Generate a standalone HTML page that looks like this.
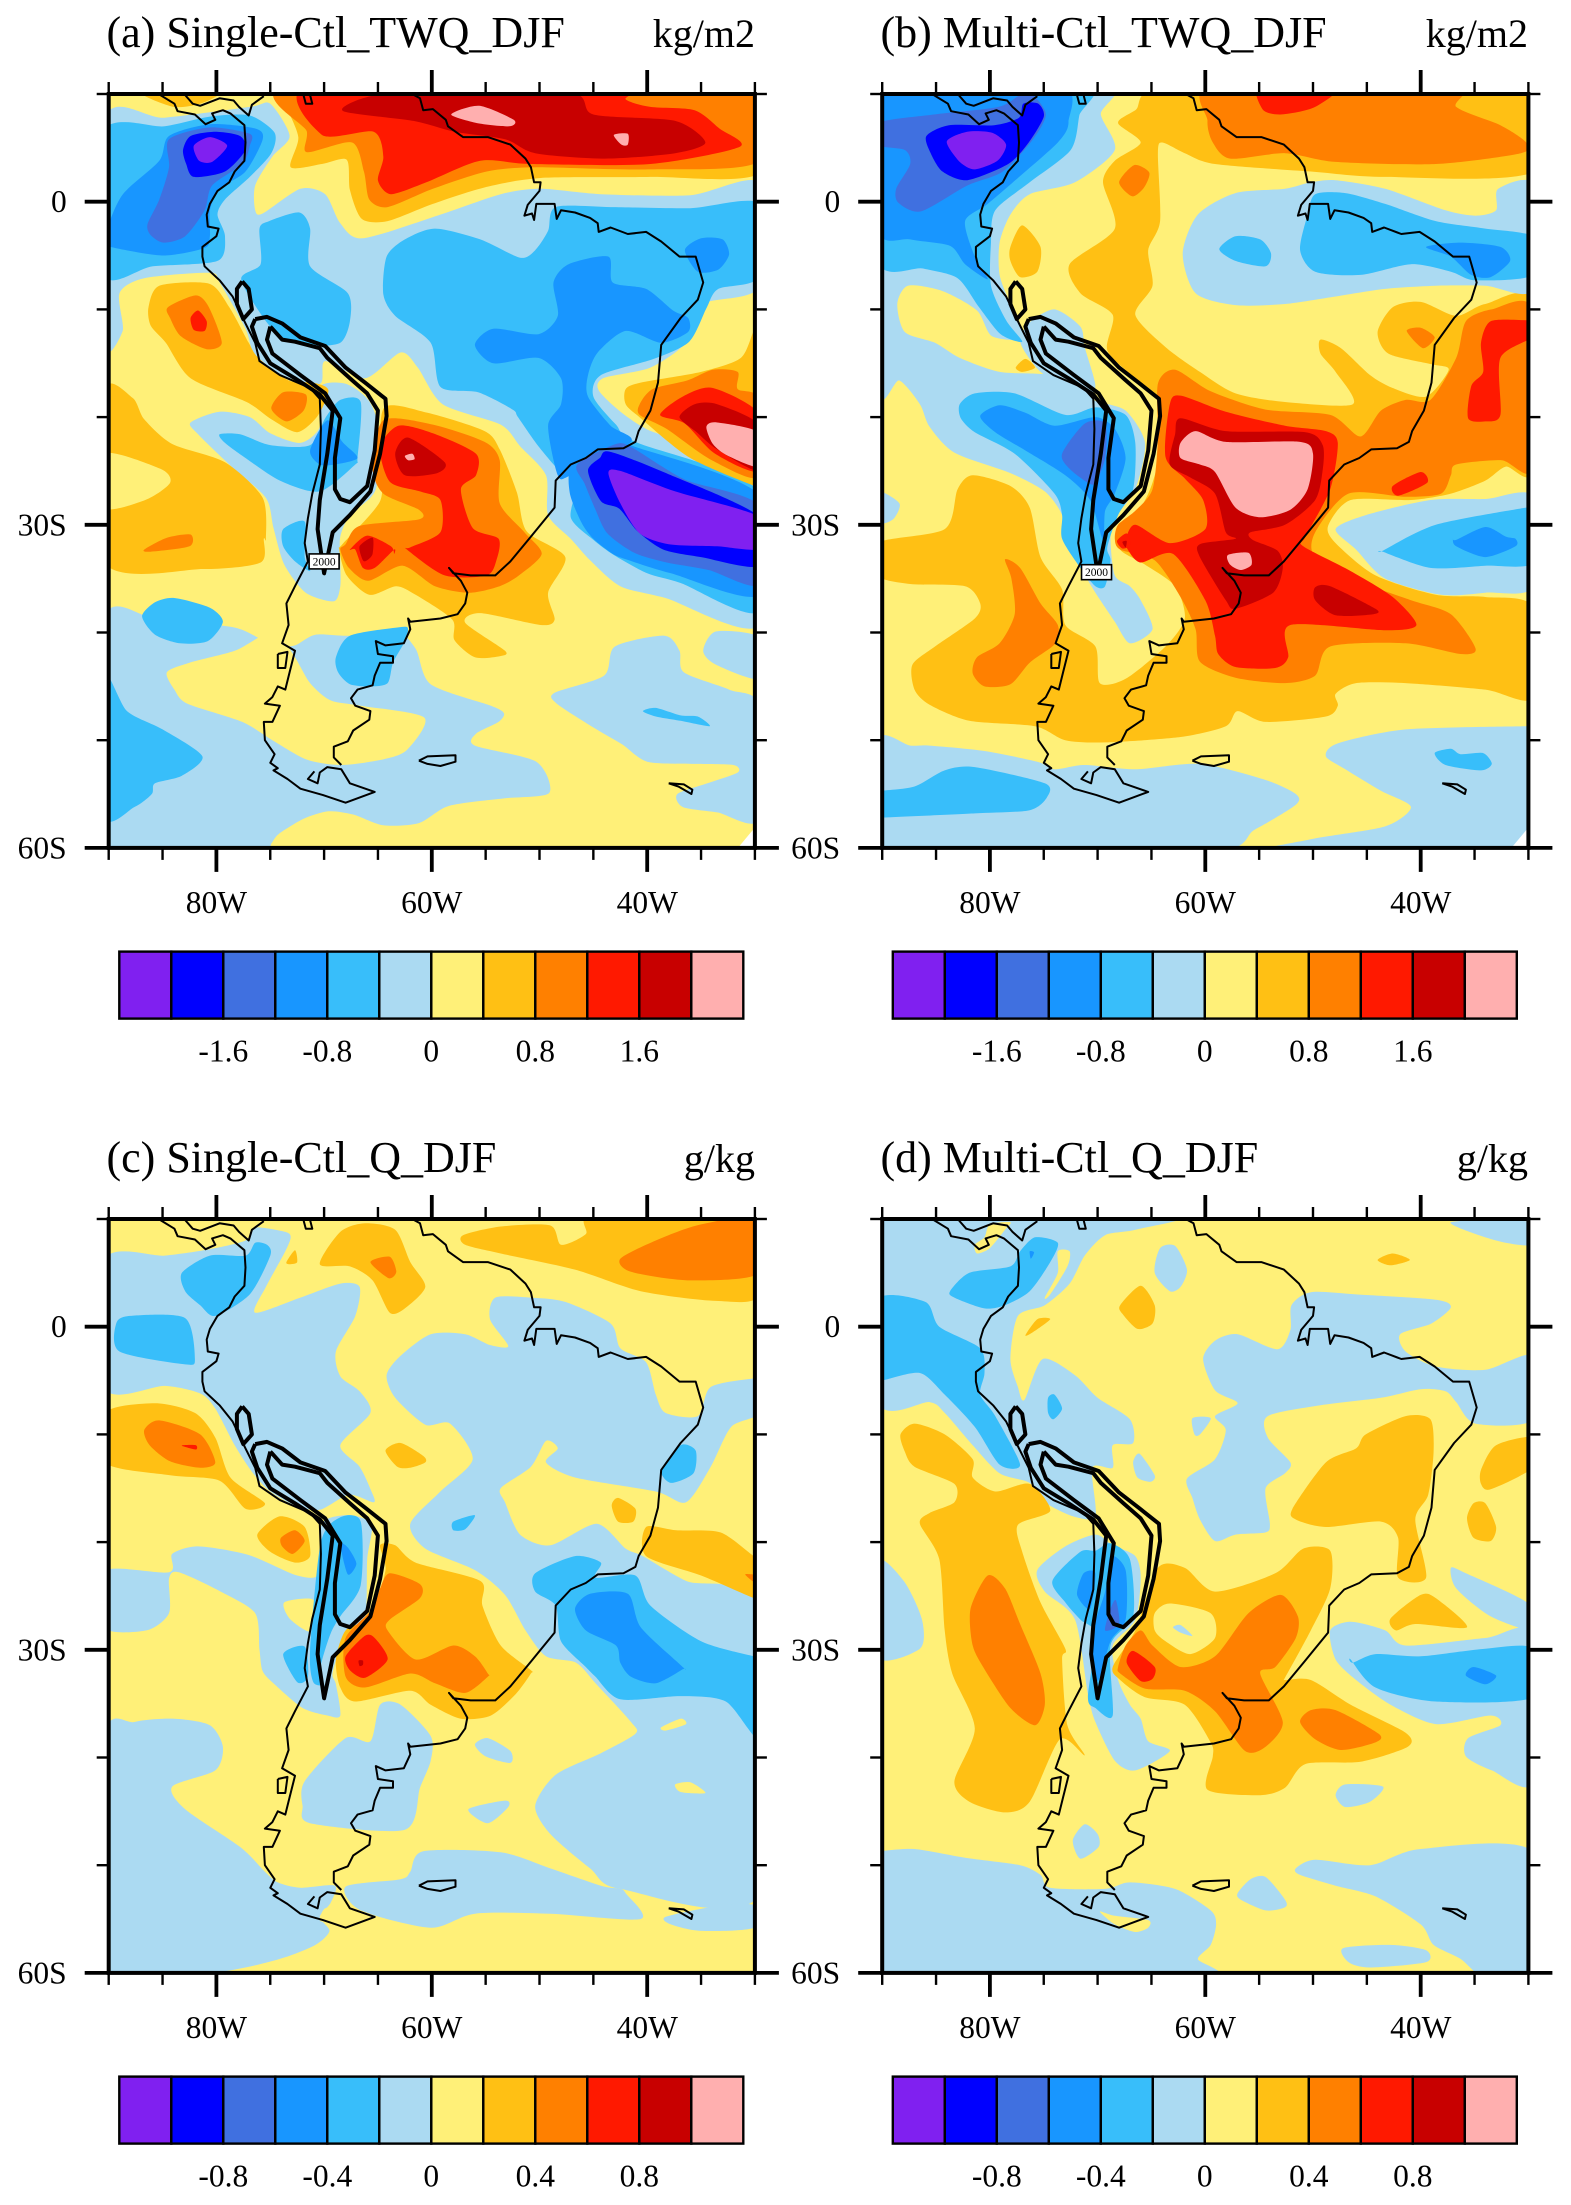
<!DOCTYPE html>
<html lang="en">
<head>
<meta charset="utf-8">
<title>Single and Multi minus Ctl TWQ and Q, DJF</title>
<style>
html,body{margin:0;padding:0;background:#fff}
svg{display:block}
text{font-family:"Liberation Serif",serif;fill:#000}
</style>
</head>
<body>
<svg id="figure" xmlns="http://www.w3.org/2000/svg" width="1571" height="2205" viewBox="0 0 1571 2205">
<rect width="1571" height="2205" fill="#fff"/>
<text x="106.5" y="47" font-size="44">(a) Single-Ctl_TWQ_DJF</text>
<text x="755" y="47" font-size="40" text-anchor="end">kg/m2</text>
<text x="880.5" y="47" font-size="44">(b) Multi-Ctl_TWQ_DJF</text>
<text x="1528" y="47" font-size="40" text-anchor="end">kg/m2</text>
<text x="106.5" y="1172" font-size="44">(c) Single-Ctl_Q_DJF</text>
<text x="755" y="1172" font-size="40" text-anchor="end">g/kg</text>
<text x="880.5" y="1172" font-size="44">(d) Multi-Ctl_Q_DJF</text>
<text x="1528" y="1172" font-size="40" text-anchor="end">g/kg</text>
</svg>
<script>
// Shading levels, dry to moist
const levelColors = ['#8020F0','#0000FF','#4070E0','#1896FF','#38BEFA','#ABDAF2','#FFF078','#FFC014','#FF8000','#FF1900','#C80000','#FFAFAF'];
const twqBarLabels = ['-1.6','-0.8','0','0.8','1.6'];
const qBarLabels = ['-0.8','-0.4','0','0.4','0.8'];
const lonMajor = [80,60,40];
const lonMajorLabels = ['80W','60W','40W'];
const lonMinor = [90,85,75,70,65,55,50,45,35,30];
const latMajor = [0,30,60];
const latMajorLabels = ['0','30S','60S'];
const latMinor = [-10,10,20,40,50];
// Geography, as [deg W, deg S] pairs (negative S = north)
const coastPacific = [85.2,-9.9,83.9,-9.1,83.6,-8.4,82,-8.1,81,-7.2,80.1,-7.6,80.4,-8.2,79.4,-8.5,78.7,-8.2,78,-7.6,77.4,-7.1,77.3,-5.5,77.4,-3.8,78.3,-2.8,78.8,-1.8,79.9,-1,80.6,.2,80.9,1.2,80.8,2.3,79.8,2.5,80,3.2,81.3,4.2,81.3,5.1,81.1,6,79.7,7.3,78.5,8.8,77.3,11.3,76.4,13.1,76,14.8,74.1,16.1,71.3,17.3,70.4,18.3,70.3,21.1,70.4,24.4,71.1,27.1,71.5,29.4,71.8,31.7,71.5,33.4,72.7,35.7,73.5,37.3,73.3,39.3,73.9,41,72.7,41.7,73.2,43.7,73.6,45.3,74.3,45,74.8,46,75.5,46.6,74.1,46.8,74.8,48.3,75.6,48.3,75.5,50,74.6,51.3,75,52.1,74.3,52.6,74.7,52.8,73.4,53.6,72.2,54.5,70.1,55.1,68,55.8,65.3,54.8,67.6,54,68.4,52.7,69.7,52.5,70.4,53,70.6,54,71.5,53.6,70.9,52.9];
const coastAtlantic = [68.4,52.3,69.1,51.6,69.1,50.6,67.8,50.1,67.3,49.1,65.8,48.1,65.7,47.3,67.1,46.8,67.5,46.1,66.9,45.3,65.5,44.9,65.3,44,64.8,42.8,63.6,42.8,63.6,42.2,65,42,65.2,40.8,64.3,41.2,62.6,41,62,39.7,62.2,38.7,62,39,59.2,38.7,57.6,38.3,56.9,37.3,56.7,36.3,57.3,35.2,58.4,34,58,34.5,56.4,34.7,54.1,34.7,52.7,33.4,50.8,31.1,48.6,28.4,48.5,25.9,47.1,24.4,45.7,23.8,44.6,23,42.2,22.9,41.1,22.3,40.8,21.3,39.7,19.4,39,16.8,38.7,13.3,36.9,10.8,35.3,9.1,34.8,7.5,35.5,5.1,37,5.1,38.7,3.7,40.1,2.8,41.8,3,43.4,2.4,44.5,2.8,44.6,2,45.3,1.5,46.7,1,48,.8,48.4,1.6,48.6,.2,50.3,.2,50.5,1.7,50.7,1.1,51.4,1.3,51.1,.3,50,-1,49.9,-1.8,50.5,-1.8,50.8,-3.2,51.3,-4,52.7,-5.3,54.8,-6,57.1,-6,58.5,-7,58.7,-7.6,59.9,-8.6,60.8,-8.5,61.1,-9.6,62.2,-10.2];
const coastCaribbean = [82.9,-9.9,82.2,-9.1,81.5,-8.9,79.7,-9.6,78.4,-9.4,77.9,-8.8,77,-8,76.7,-9,75.6,-9.8];
const coastMaracaibo = [72,-10.2,71.7,-9.1,71.1,-9.1,71.3,-9.9];
const islandChiloe = [74.3,42,73.4,41.8,73.6,43.3,74.3,43.3,74.3,42];
const islandFalkland = [61.2,51.9,60.4,51.5,57.8,51.4,57.8,52,59.2,52.4,60.4,52.2,61.2,51.9];
const islandGeorgia = [38,54,36.6,54.1,35.8,54.6,35.9,55,37.1,54.3,38,54];
const coastLines = [coastPacific,coastAtlantic,coastCaribbean,coastMaracaibo,islandChiloe,islandFalkland,islandGeorgia];
const topoNorthLoop = [77.6,7.4,77,8.1,76.7,10,77.5,10.9,78.1,9.5,78.1,8.1,77.6,7.4];
const topoOuter = [76.4,10.9,75.3,10.7,73.9,11.3,72.2,12.6,69.9,13.4,68,15.4,66.2,16.8,64.3,18.3,64.2,19.9,64.8,23.4,65.7,26.9,67.6,29.1,69.2,30.7,70,34.5,70.6,30.4,70.4,27.7,69.7,23.4,69.2,19.4,70.4,17.9,72.7,16.4,75,15,76.2,13.1,76.7,11.6,76.4,10.9];
const topoInner = [75,11.6,75.3,12.8,74.8,14.1,72.2,16.1,69.9,17.8,68.5,20.1,69,23.8,69,26.7,68.5,27.6,67.6,27.9,66,26.4,65.3,23.1,65,19.4,66,17.8,67.6,16.4,69.7,14.5,70.4,13.6,72.7,13,73.9,12.8,74.8,11.8,75,11.6];
const topoLines = [topoNorthLoop,topoOuter,topoInner];
const cornerGap = [29.5,57.5,32,60.5,29.5,60.5];
// Filled contour regions: [level index, W,S, W,S, ...], painted in order
const singleTwqRegions = [
[5,90.4,-7.6,84.8,-7.8,76.9,-8.8,75,-9.1,73.2,-6.1,74.8,-4.2,76.4,-1.5,76.4,.8,75.7,1.1,72.2,-1.2,69.9,-.7,68.5,2,66.4,3.4,59.2,1.2,53.6,-.7,49.9,-1.2,44.3,-.7,36,-.6,29.5,-1.7,29.5,7.8,34.8,9.5,36.4,13.1,39.7,15.4,44.1,16.4,44.3,17.8,40.1,21.1,29.5,25.7,29.5,39.3,38.3,36.8,42.5,35.7,45.3,33.3,47.1,31.3,49.2,29.1,49.4,25.4,51.8,22.7,53.6,20.7,59,18.8,61.3,15.4,62.9,14,66.2,16.4,69.9,14.8,70.4,16.9,74.1,16.1,76.4,14.5,77.3,11.8,79.7,7.5,80.6,6.6,86.7,7.1,89,8.5,88.7,12,90.5,13],
[5,70.4,17.2,68,16.9,65.9,18.4,65,21,65.2,26.7,67.6,29.1,68.5,31.1,68.5,33.3,68.5,35.7,69.1,37.1,71.7,36.3,73.7,33.7,74.7,30.3,75.4,27.5,78.6,24.6,81.7,21.6,82.4,20.5,79.7,19.5,76.9,20,75,21.5,72.2,22.4,70.4,20.9],
[5,90.5,38.9,85.5,38.8,78.5,39.5,75.9,40.6,74.3,41.3,72.7,41.2,70.8,40.2,67.6,40.3,63.4,39.8,61.5,41.5,60.1,44.8,54.5,46.8,53.3,47.5,53.8,48.3,55.9,49.4,56,50.5,50.3,52,49.1,54.9,53.3,55.4,58.4,56.1,61.2,57.7,64.5,57.9,67.3,56.9,69.6,56.6,71.9,57.3,74.2,58.7,74.9,59.6,75.6,60.5,81.9,61,90.5,61],
[6,84.6,43.7,82.5,42.8,78.3,41.7,75.5,40.2,73.9,40.7,72.7,42.3,71.3,44.7,69.4,46.3,66.6,46.8,60.7,47.9,62.3,50.9,64.6,51.8,68.4,52.3,71.6,51.8,74.8,50,77.6,48.3,82.7,46.6,83.9,45.3],
[5,48.6,45.6,44,44,43,41.3,38.4,40.3,37,41.7,36.6,43.7,32.4,45.3,29.5,46.9,29.5,57.3,33.5,56.7,36.7,56.2,37.2,55,34.4,54,31.6,53,32,52.3,35.7,52.2,40,52,42.3,50.4,44.7,49,48.4,46.6],
[5,33.6,39.9,34.8,41.7,33.6,43,29.5,44.3,29.5,40.5],
[4,86.9,38.5,85.7,37.2,83.9,36.8,80.6,37.7,79.4,39,80.8,40.8,83.4,41,85.7,40.2],
[4,68.9,42.3,67.6,40.3,62.9,39.5,62.2,39.7,62.6,41,63.6,42.8,64.1,44.7,65.7,45,67.6,44.8,68.7,43.7],
[4,90.5,44,88.3,47.3,85,49,81.3,51.5,83.2,53.3,85.7,54,86,55,87.6,56.2,90.5,57],
[4,40.4,47.3,39.2,47,36.9,47.7,35.3,47.8,34.2,48.7,36.9,48.2,39.2,47.8],
[4,79.7,21.6,77.8,21.6,75,22.6,71.3,22.6,69.9,20.1,68.5,18.4,66.6,18.6,66.9,23.8,67.1,24.4,70.4,26.9,74.1,25.9,77.3,23.8,79.2,22.4],
[3,71.3,23.1,69.7,20.3,68.3,22.3,66.9,23.8,69,24.4,70.4,24.4],
[4,73.8,30.4,71.8,29.7,71.8,33,71.3,34.3,72.7,33.4,73.8,32],
[3,74.3,9.5,73.4,10.5,73.9,10.8],
[4,90.5,-6.5,84.8,-7,80.6,-7.9,76.9,-8,74.6,-6.4,74.9,-4.5,76.9,-2.3,79.2,-.2,79.9,1.2,79.2,3.2,79.9,5.5,85.9,6,90.5,6.7],
[3,89.9,1.8,88.6,-.8,85.3,-3.8,84.4,-6.1,80.6,-7.2,76.4,-6.8,75.7,-5.8,77.3,-2.8,79.7,-1.2,80.6,.8,80.6,3.2,81.1,4.3,84.9,5,89.4,4.3,90.5,3.8],
[2,86.4,2.1,85.3,-.2,84.4,-3.2,84.4,-5.8,80.6,-6.9,76.9,-6.3,76.9,-5.2,77.6,-3.5,80.4,-1.5,81.1,.8,82.9,3.2,84.9,3.8,86.1,3.1],
[1,83.1,-4.8,82.4,-6.1,80.1,-6.5,77.8,-6.1,77.3,-4.8,79.2,-2.8,82.1,-2.3,82.8,-3.5],
[0,82.1,-5.2,80.6,-6,79,-5.2,80.4,-3.7,81.6,-3.8],
[4,76,2.5,75.1,1.8,72.3,1,71.3,2.5,71.3,6,67.8,8.5,67.6,11.1,68.5,13.1,71.3,13.4,73.6,12.8,75.4,11.1,77.7,7.2,75.9,5.8],
[4,64.2,5.1,62.5,3.5,59.7,2.5,55.5,3.5,51.8,5.2,50.4,4.5,49.2,2.7,48.5,.5,43.4,.5,36,.6,29.5,.2,29.5,6.9,33.4,8.1,34.5,9.9,36.1,13,39.4,14.6,44.3,16.1,45,18.1,42.9,20.7,41.1,22.3,29.5,27,29.5,38,36.9,35.4,40,34.5,43.1,32.8,45,31.4,47.1,29.3,46.4,25.8,48,25.1,50.1,22.7,52,20,52.5,19.3,55.7,17.7,59.2,17.2,60.1,13.1,63.4,10.6,64.5,8.6],
[3,48.7,7.5,47.3,5.8,43.6,5.1,43.2,7.5,40.1,8.1,37.6,10.1,36.2,10.8,36.2,12.1,38.7,13.1,42,12,44.6,14,45.5,16.1,45.5,18.1,43.4,20.8,41.5,22.3,47.1,25.4,48.3,25.4,49.2,20.8,48,18.8,48,16.4,50.1,14.5,54.3,15,56,13.3,54.3,11.8,50.1,12.3,48.3,10.6],
[3,46.9,24.4,42.9,22.5,41,22.8,29.5,27.3,29.5,36.5,37.8,34.5,41.7,33.3,43.2,32.7,45,31.3,46.1,29.8,47.2,27],
[3,36.5,4.5,35,3.4,33,3.5,32.4,4.9,33.4,6.3,35.3,6.5],
[2,46.5,24.4,42.9,22.5,41.3,22.9,36.5,25.8,29.5,28.3,29.5,35.5,34.3,34.2,38.2,33.5,41.2,32.6,43.7,30.8,44.8,28.6,45.8,26.2],
[1,45.5,25,44.4,23.8,43.5,23.2,38.5,25.1,29.5,29.3,29.5,33.8,35,33,38.5,32.3,40.9,30.6,42.6,28.5,44.3,27.8],
[0,43.6,25.2,42.5,25,37.4,26.9,29.5,29.3,29.5,32.2,33.5,32,38,31.8,40.7,30.8,42.5,28],
[7,91,-11,90,-11,87.9,-11,86.6,-9.8,83.9,-8.8,81.5,-9.1,79.7,-10,79.7,-11],
[7,74.6,-11,73.8,-9.4,72.4,-6,73.1,-3.2,70.2,-3.5,67.9,-3.9,67.6,-1.1,66.5,1.6,64.1,1.8,59.9,0.2,55.2,-1.3,49.9,-2.2,39.7,-2.3,29.5,-2.7,29.5,-11],
[8,72.5,-11,71.6,-6.5,71.6,-4.6,67.4,-5.5,66.3,-2.8,65.8,-.2,64.1,.5,59.9,-1.2,54.9,-2.8,50.3,-3.2,39.7,-3,29.5,-3.8,29.5,-11],
[9,71,-11,70.2,-6.2,65.4,-6.5,64.5,-4.2,65,-2,63.8,-.7,60.5,-1.8,55.5,-3.8,50.8,-3.5,39.7,-3.5,31.4,-5.1,33.3,-6.8,35.6,-8.5,39.7,-8.8,42,-9.5,42.5,-11],
[10,68.2,-8.4,66.4,-9.6,62.2,-10.2,47.3,-10.2,45,-8.1,37.4,-7.5,34.6,-5.5,37.4,-4.5,43.9,-4,50.4,-4.5,53.2,-5.8,57.9,-6.5,61.7,-7.5],
[11,58.2,-8.1,55.6,-8.9,52.4,-7.6,52.8,-7,55.8,-7.3],
[11,43.1,-6.2,41.8,-6.3,41.8,-5.3,42.4,-5.3],
[7,86.3,9.8,85.3,7.8,80.7,7.6,78.8,9.8,77,13.1,76.1,14.5,73.3,16.6,71,16.8,69.6,17.5,70.6,19.9,72.5,21.4,74.9,20.2,77.2,18.6,82.4,16.4,84.7,13.1,86.1,11.5],
[8,84.5,9.8,81.9,8.7,80.7,9.8,79.5,13.1,80.9,13.7,83.3,12.5,84.3,10.8],
[9,82.4,10.8,81.7,10.1,80.9,11.1,81.1,12,82.1,11.9],
[8,74.9,19.2,73.8,17.7,71.7,17.9,71.9,19.4,73.5,20.4],
[7,90.5,17.7,87.8,18.2,86.7,20.2,84.1,22.5,79.2,24.2,75.7,27.5,75.4,31.3,75.6,31.3,75.9,33.5,81.2,34.1,90.5,33.4],
[6,90.5,23.4,85.2,24.8,84.3,26.1,86.6,27.7,90.5,28.4],
[8,86.7,32.3,84.6,31.2,82.4,30.9,82.5,32,86.1,32.5],
[7,64.4,19.1,60.4,19.6,55.1,21.3,53.7,23,52.1,27,51.2,30.6,47.6,33,49.2,36.3,48.6,38.8,49.9,39.3,55.5,38.2,56.9,39.1,53.2,41.7,53.7,42.2,56,42.3,57.9,40.7,58.1,38.8,61.5,36.5,63.3,35.7,65.8,36.5,67.9,34.7,68.6,32.3,68.3,31.8,64.8,27.8,64.8,24],
[8,65.5,24.7,64.5,20.3,59.9,20.7,55.1,22.3,53.7,24,53.7,28,51.4,30.7,49.8,32.7,51.9,34.7,53.7,35.7,56.5,36.3,59.7,35.7,62.7,33.8,65.9,35.2,67.7,34,68.5,32.3,68,31.8,66.7,30.1,61.2,29.5,61.2,28.6,64.5,27.1],
[9,64.8,22.8,63.1,20.8,59.9,21.5,55.9,23.4,55.9,25.4,57.3,26.7,56.2,30.3,53.8,31.3,54,33.3,54.9,34.7,58.8,34.7,62.3,32.3,62,32.1,59.2,30.7,59.2,27.7,61.1,26.9,63.9,26],
[9,67.6,32.3,66,31,63.8,32,63.5,32.7,63.5,32.3,65.3,34,66.4,34,67.1,32.3],
[10,63.4,23.4,62.2,21.9,58.8,24.2,59.5,25.2,62.5,25.4],
[10,66.7,32,65.5,31.2,65.5,32.7,66,33.3,66.4,33.3],
[11,62.5,23.6,61.8,23.4,61.6,23.9,62.2,24],
[7,42,17.4,40.6,16.8,35,15.8,31.3,14.5,30,11.8,29,11.8,29,26.4,30,26.4,36,23.8,40.6,20.1,42,18.8],
[8,40.7,18.8,39.5,17.4,36.3,16.6,33.9,15.6,31.6,15.8,31.6,17.4,29.5,18.4,29.5,25.5,34,24,38.2,21.1,40.7,19.8],
[9,38.8,19.8,36.7,18.1,33.9,17.3,29.5,19.8,29.5,25,33.7,23.4,36.5,20.6],
[10,37,20,35.6,18.8,33.5,18.8,29.5,20.8,29.5,25,33.5,23,35.4,21.4],
[11,34.5,20.9,33.5,20.5,29.5,21.5,29.5,24.6,32.5,23.6,33.9,22.5]
];
const multiTwqRegions = [
[7,68.1,-7.3,66.5,-8.5,62.3,-11,29.5,-11,29.5,-2.8,43.3,-2.3,50.2,-2.8,59.1,-3.5,61.9,-4.5,64,-5.5,64.4,-4.5,64.2,1.8,65.3,4.5,64.9,7.8,66.5,10.5,63.7,13.5,60.5,15.8,57.2,17.8,52.6,18.6,46.3,18.8,47.9,15.8,49.3,14.1,49.3,12.8,47.4,13.6,44.7,16.1,42.6,17.3,39.5,18.1,37.4,15.6,39,15.1,43,14.1,44,12.1,42.6,9.8,40,9.3,36.7,10.6,34,9.5,29.5,9.3,29.5,24.8,32.1,24.6,34,25.9,37.2,27.1,40.9,27.7,46.5,27.7,48.6,30.1,47.9,31.7,44.2,34.7,38.6,36.5,34,36.7,29.5,37.7,29.5,46,34,45.3,41.4,44.7,46,44.7,47.9,45.7,47.7,46.8,48.8,47.8,54.4,48.3,57,47.3,58.1,48.7,62.3,49.7,69.3,50.2,73,50,75.8,48.7,81.9,48.2,85.6,46.7,87,45.3,87.2,43,85.1,41.3,81.4,38.7,80.9,37.3,82.3,35.7,87.4,35.5,90.5,34.7,90.5,31.7,84.2,30.4,83,26.7,81.6,25.4,78.1,26.4,76.3,28.4,75.3,33,73.3,36,73,39.3,70.2,41.3,69.8,44.7,67.4,44.3,63.7,41.3,61.9,38.7,62.8,35.7,65.6,33.7,67.9,32.3,67.9,30.4,66,28.4,64.9,26.1,64,22.4,64.2,18.4,66.5,16.4,69.1,13.8,68.6,10.5,71.6,8.5,72.6,5.8,68.4,2.5,69.5,-1.8,68.4,-3.8,66,-5.5],
[5,90.5,-11,69.3,-11,69.7,-8.1,68.4,-4.8,72.1,-1.8,76.3,-.7,78.1,1.2,79.1,3.8,79.1,6.8,78.1,9.5,77.2,11.5,76.7,12.8,79.8,12.5,81.2,10.1,84.4,8.3,87.6,7.8,88.6,9.5,87.9,12.1,85.1,13.1,82.8,14.5,79.1,15.8,74.4,16.1,71.2,17.6,70.2,18.5,67.4,19.4,65.6,22.4,66.5,26.7,68.4,29.4,68.8,31.3,68.4,34.7,67,35.7,66,37,64.9,39.7,67,41,68.4,39,70.2,36.3,71.6,34,73.3,31.3,73.3,29.1,74.9,26.9,78.1,25.2,83.3,23.3,85.6,20.9,86.5,18.8,88.4,16.6,90.5,17],
[5,74,10,71.6,11.6,71.2,13.5,70.2,17.1,71.2,17.9,74.9,16.1,76.3,14.6,77.2,12.9,76.3,11.2],
[5,90.5,26.9,88.4,28,89,29.5,90.5,29.8],
[4,90.5,-11,71.2,-11,71.7,-8,72.5,-4.8,76.3,-1.8,79.5,.8,79.9,3.8,79.9,7.8,78.5,11,77,13,79,12.3,81,9.8,83,7.1,86.2,6.2,90.5,5.3],
[3,90.5,-11,73.7,-11,72.7,-7.4,73.7,-5.5,77.4,-2.2,80.2,.2,82.3,1.8,81.4,5.1,80.2,7.2,82.3,5.8,83.7,4.1,87.4,3.5,90.5,2.5],
[2,90.5,-7.3,85.2,-8.1,79.2,-8.8,77.2,-9.9,76,-9.9,74.8,-8.1,76,-5.8,78.8,-2.8,82.1,-1.5,86.4,.9,88.5,.1,88.7,-1.2,87.4,-3.5,87.9,-4.8,90.5,-5.3],
[1,85.9,-6.1,83.8,-7.1,79.6,-7.1,77.3,-7.8,76.9,-9.1,75.5,-9.1,75,-7.9,76.4,-5.5,78.3,-3.5,82.1,-2,84.4,-2.8,85.5,-4.5],
[0,84,-5.6,82.1,-6.5,79.8,-6.4,78.5,-5.3,79.3,-3.8,81.4,-3,82.8,-3.7],
[4,82.8,18.8,81.4,17.8,77.7,17.8,73,19.8,70.2,19.1,67.4,19.8,66.5,22.4,66.7,26.7,68.1,29.1,69.1,32.1,68.8,33.3,69.3,35.7,70.2,35.7,71.6,34,73.3,31.3,73.3,29.1,74,27.1,77.7,23.4,81.4,21.4,82.7,20.1],
[3,80.9,19.9,79.1,18.9,76.7,19.6,74,20.8,70.2,20,68.4,21.1,67.4,23.8,68.4,27.1,69.3,28.7,69.5,31.4,70.7,27.7,73,25.4,76.7,23.1,79.5,21.4],
[2,73.3,23.4,71.2,20.6,69.3,20.6,69.3,23.8,70.2,26.1,70.9,26.1,72.6,24.8],
[5,60.7,1.2,57.2,-.8,52.6,-1.2,50.2,-1.8,47.9,-2,43.3,-1.2,37.7,.8,34.9,1.3,33,.8,32.8,-1.2,29.5,-1.5,29.5,8.1,34,7.8,38.6,7.8,43.3,8.1,47.9,8.8,52.6,9.5,57.2,9.6,60.9,8.5,62.1,4.8],
[4,51.2,4.5,50.5,1.2,49.8,-.7,47,-.8,43.3,.2,38.6,1.8,34,2.5,29.5,3.3,29.5,6.8,34.9,7.3,37.2,6.5,40.9,5.8,45.6,6.8,49.8,6.5],
[3,39.5,4.2,36.3,3.8,32.6,4.2,31.7,5.5,33.5,7,35.3,6.8,37.2,5.1],
[4,58.7,4.4,57.2,3.2,54.9,3.5,53.9,4.8,54.4,6,57.2,5.5],
[7,78.1,4.2,77,2.2,75.3,4.2,75.6,6.5,77.2,7,78.1,5.5],
[8,68,-1.8,66.6,-3.4,65.2,-2.7,65.7,-1.3,66.8,-.5],
[7,77.6,15.4,76.7,14.6,75.8,15.4,77,15.8],
[8,59,-11,59.8,-7.5,59.3,-5.5,57.7,-4,52.6,-4.5,47.9,-3.7,38.6,-3.5,30.7,-4.5,30.2,-5.5,32.6,-7.1,36.7,-8.8,37,-11],
[9,54.9,-11,54.7,-8.6,53,-8.1,49.8,-8.8,47.4,-11],
[8,64.4,16.9,62.8,15.6,59.5,17.6,54.4,19.3,48.4,19.8,45.6,21.8,43.7,19.4,41.4,18.4,39.1,18.4,36.7,14.5,35.8,11.1,33.4,10,29.5,10.1,29.5,24.6,32.5,24,36.7,24.4,37.2,25.4,38.1,27.1,41.4,27.4,46.7,27.1,49.8,30.7,49.8,33,45.6,35.3,40.9,37,37.2,38.3,34.9,41.5,36.3,42,41.4,41,48.4,41.3,49.8,44,52.6,44.7,57.2,44.2,60.5,42.7,60.9,39.7,62.3,36.7,64.7,33.3,67.9,32.3,68.4,31.3,68.1,30,66.5,28.7,64.9,26.7,64.4,22.1],
[8,78.6,33.2,77.2,34,75.3,37.3,73.7,39.3,73.9,41,76.3,42.8,78.1,44.8,80.5,45,81.6,43.8,81.2,42.3,79.1,41,77.7,38.3,78,35],
[8,41.3,12,40,11.7,38.7,12.6,39.8,13.6],
[9,34.4,13.1,33.5,11.1,30.2,11,29.5,11,29.5,12.5,32.6,14.5,32.6,19.8,34,20.4,35.6,20.1,35.3,17.1,34.2,15.8],
[9,63.3,18.8,62.3,18,58.1,19.5,52.6,20.8,48.8,21.3,47.7,22.4,48.4,26.7,50.7,31.1,50.9,32,46.5,34.3,42.6,36.7,40.4,39.3,43.3,39.8,52.1,39.3,52.3,42.3,53.5,43.3,57.2,43.2,58.8,42,59.1,40.3,60,37,63,32.7,66,33.5,67.2,32.3,67.4,31.4,66.5,30,63.3,31.7,60,30.4,60.2,27.7,61.9,25.7,63.7,23.7],
[10,62.8,21.6,62.3,20.1,58.1,21.3,50.7,21.4,49.1,22.6,49.1,24.9,49.8,27.7,52.6,30,55.8,30.7,55.6,31.4,53.3,32.4,52.8,34,53.7,36.3,57.2,37.8,58.1,37,60.5,33,60.5,31.8,57.2,31.3,58.1,30.7,59.1,27.1,61.4,25.6,63.3,24.4],
[10,49.8,35.8,48.4,35.7,44.2,37.8,44.4,38.3,47.9,38.4,49.8,37],
[11,62.3,22.4,60.9,21.3,58.1,22.3,51.2,22.3,50,23.4,50.5,26.7,52.1,28.6,54.9,29.3,57.2,28.4,59.1,25.1,60.5,24.4,62.3,23.8],
[11,57.9,32.8,56,32.6,55.7,33.7,56.7,34.2,57.7,33.7],
[9,42.6,26.4,40,25.1,39.4,26.1,42.1,27.3],
[9,68.2,31.5,67.3,30.8,66.9,31.9,67.7,32.2],
[10,67.7,31.6,67.3,31.5,67.4,32.1],
[5,47.9,30.4,45.1,29.1,39.1,27.7,34,27.6,29.5,27.4,29.5,35.7,34,36.3,38.1,36.5,43.3,35,46,32.3],
[4,43.5,32.4,38.6,30,30.2,28.4,29.5,28.4,29.5,33.5,34,33.8,39.1,34,43.5,32.5],
[3,37,31.3,36.7,32,34,33,31.2,32,31.2,31.3,32.1,31.1,34,30.2,36.7,31.4],
[5,90.5,50,87.4,50.5,85.6,50.5,80.5,51,75.6,52,74,52.7,71.2,52.3,66.5,52.7,60.5,52.2,54.4,53.7,51.6,55,51.6,56,55.4,58.3,60.1,60.5,90.5,60.5],
[5,48.8,51.5,47.7,50.3,41.4,49,30.2,48.7,29.5,48.7,29.5,60.5,54.4,60.5,50.2,59.2,43.3,58,40.9,56.2,43.7,54.7,47,52.7],
[4,90.2,54.7,87,54.3,84.2,52.8,81.4,52.5,74.9,54,74.7,55.3,76.3,56.5,81.4,56.8,90.2,57.2,90.5,57.2,90.5,54.7],
[4,38.7,51.2,37.2,50.8,36.3,51.3,34.2,51.2,33.4,52.2,34.4,52.8,37.7,52.3]
];
const singleQRegions = [
[5,90.4,-6.2,84.8,-6.6,80.6,-7.2,77.3,-8,76.4,-9.2,73.6,-8.8,73.1,-8.3,73.6,-7,75.4,-3.7,76.4,-1.3,72.2,-2.7,68.5,-4,66.7,-3.7,67.1,-1,68.9,2.3,68.5,4.6,66.7,6,65.7,8,68.5,11,66.7,13,65.6,15.3,65.4,16.3,67.7,15.6,70.4,17,72.7,16.6,75,15.3,76.6,13.6,78.3,11,80.1,7.6,81.5,6.2,84.8,5.5,90.4,5.7],
[5,90.5,22.7,84.4,22.8,84.1,21.1,81.7,20.4,77,21.2,72.5,23.1,70.4,22.9,70.2,18.3,67.6,17.5,65.6,18.4,66,21.6,66.2,26.9,68,28.5,69.2,32.1,68.9,33.2,68.5,36.1,69.7,36.1,72,35.4,74.5,33.3,75.7,32,76,30,76.4,26.6,79.6,24.6,83.5,22.8,84.4,23.4,84.4,26.6,86.5,28.2,90.5,27.9],
[6,73.7,25.6,71.1,25.3,70.7,27,71.4,28.3,73.2,27.1],
[5,64.2,4.5,62.9,2.7,60.1,.7,56.9,.7,54.6,1.7,52.9,1.8,54.6,-.7,54.1,-2.7,50.8,-2.7,47.6,-2.3,43.4,-.3,42.5,2,40.1,3.3,39.2,6.3,38.3,8,35.3,8.3,34.1,5.6,30.1,4.8,29.5,4.8,29.5,8,32.2,9.3,34.1,13,36.4,16.3,39.2,15.3,46.7,14,49.4,12.6,48.3,11.3,49.4,10.6,50.8,13,53.6,15,53.2,16.3,51.8,19.3,49,20.3,44.7,18.3,42,20.6,40.4,21.3,36.4,23.6,29.5,26.6,29.5,52.6,42.5,52.2,45.3,50.3,49,47.1,50.4,44.5,48.5,41.6,44.3,39.6,41.1,37.8,41.5,36.7,44.8,33.1,46.6,31.2,49.4,30.6,51.3,28.2,53.2,24.9,56,22.6,60.6,20.6,62,18.3,59.2,15.3,56.2,12.3,58.3,9,60.6,9.1,63.4,6.6],
[5,90.4,38.2,87.6,36.7,83.9,36.4,80.6,37,79.4,39,80.1,41.2,84.1,42.7,82.9,44.8,77.8,48.3,75.5,50.6,74.3,51.6,72.2,52.1,69,51.9,69.4,53.5,70.4,54.8,69.5,56.1,70.8,57.4,74.1,58.7,79.7,59.9,90.5,60.5],
[5,71.8,42.2,68,38.2,65.7,38.5,64.8,35.1,62.9,35.1,60.1,38,60.1,40.3,61.1,42.8,62.5,46.7,71.3,46.1,72,44.5],
[5,62,50.6,60.8,48.7,53.6,48.8,49,50.3,44.3,51.9,42.5,52.2,42,52.6,40.6,55,49,54.5,56,54.5,60.1,55.8,66.6,54.2,68,52,62.9,51.3],
[6,70.4,55.1,69.9,54,68,53.8,65.3,54.8,68,55.6,69.8,55.3],
[5,56,38.8,54.8,38.2,52.7,39.4,52.7,40.5,55,39.9],
[5,56.6,44.8,53.2,44,52.9,44.6,54.8,46.1],
[5,38.3,54.8,34.1,53.9,30.1,53.7,30.1,55.8,35,56.1,37.8,55.5],
[6,38.7,37.2,36.9,36.4,36.4,36.9,38.3,37.5],
[6,37.4,42.5,36,42.3,34.6,43.3,36.9,43.2],
[4,83.2,-5,80.6,-6.6,77.3,-6.6,76.4,-7.8,75.3,-7.6,75,-6.6,76.9,-3,80.1,-1,81.5,-2,82.9,-3.3],
[4,89.3,-.3,88,-1,82.9,-.8,82,3,82.9,3.5,89,2.3],
[7,90.4,8,85.7,7.1,82,8,80.1,10.3,78.7,14,75.5,16.4,77.3,16.9,79.7,14.3,84.3,13.8,90.4,12.6],
[8,86.7,9.6,85.3,8.7,81.5,10,80.1,12.6,81.5,13.1,84.3,12.5,86.2,11],
[9,83.1,11,81.9,11,81.9,11.4,83.1,11.1],
[7,76.2,19.3,74.1,17.6,71.8,18.6,71.3,21.3,72.7,21.9,75,20.9],
[8,74,19.6,72.7,18.9,71.8,19.9,72.9,21.1,73.9,20.4],
[7,70.4,-5.8,68.5,-8.8,66.2,-9.6,63.4,-9,62,-6,60.6,-3.7,62.5,-1.7,63.9,-1.3,65.5,-4.3,67.6,-5.6],
[8,65.7,-6,63.9,-6.5,63.3,-5.1,64,-4.5],
[7,73.5,-6,72.7,-7.1,72.5,-6,73.2,-5.8],
[7,57.1,-8.5,53.6,-9.3,49,-9.4,48,-7.6,45.7,-8.6,44.8,-10.5,29.5,-10.5,29.5,-3,33.6,-2.4,40.6,-3.3,46.7,-5.3,53.6,-6.8,56.9,-7.6],
[8,42.5,-6.3,39.2,-8,35,-9.5,29.5,-10,29.5,-5,36,-4.3,41.5,-5.1],
[7,64.3,11.5,62.9,10.8,60.8,12,60.6,12.6,62,13.1,63.2,13],
[7,43.3,16.6,42.7,15.9,41.1,16.9,41.3,18.1,42.7,18.1],
[7,40.1,18.6,37.3,18.9,33.2,19.1,30.1,21.3,29.5,21.3,29.5,25.2,30.1,25.2,35,23.1,40.1,21.3],
[8,30.9,23,30.1,23,29.5,23,29.5,23.7,30.1,23.7],
[4,38.7,13.3,36.9,11,35.5,11.5,35.7,13.6,37.8,14.5],
[4,58,18.1,56,17.5,56.9,18.8,58,18.9],
[4,50.4,22.9,46.7,21.3,44.3,21.9,44.8,23.3,41.1,23.1,39.7,25.9,35,29.2,30.1,30.6,29.5,30.6,29.5,38.3,32.7,34.8,36.9,34.3,42.5,34.6,44.8,32.5,45.7,31.6,48,29.2,48.5,25.9,50.4,24.6],
[3,46.7,26.2,45.3,24.8,41.8,24.8,40.6,27.9,36.7,31.6,36.7,31.8,39.2,33.1,41.5,32.5,42.5,31.2,42.9,29.6,45.7,28.2],
[4,70.3,20,68.5,17.7,66.6,18.1,66.6,24,68.5,26.9,69.4,28.5,70.3,31.4,70.3,33,69.9,33.3,71,33,71.3,30],
[4,73.8,30.4,71.8,29.7,71.5,32.5,72.5,33],
[3,68.5,20.2,67.8,20.5,67,22,67.8,23],
[7,64.8,20.3,63.4,20.3,61.5,21.9,55.5,23.6,55.3,25.9,53.6,29.6,50.8,31.9,50.8,32.2,52.2,34.1,54.5,36.1,57.3,36.4,60.1,35.1,62,33.8,67.1,34.8,68.5,33.5,68.9,30.9,68,28.2,65.7,26.9,64.3,22.6],
[8,64.8,24.3,63.9,22.9,61.1,23.9,61.1,25.2,63.9,27.2,64.1,28.2,61.5,30.9,58,29.6,56,30.6,54.8,32.2,54.8,32.5,56.9,34,59.7,33.1,62,32.2,66.2,33.5,68,32.5,68,28.9,65.5,26.2],
[9,68,30.6,66.2,28.7,65.3,28.9,64.1,30.9,66.2,32.6,67.6,31.9],
[10,66.8,31,66.4,31,66.4,31.4,66.7,31.5]
];
const multiQRegions = [
[5,90.5,-10.5,62.3,-10.5,66.5,-9,69.3,-8.5,71.2,-6.6,72.6,-4,74.9,-2,77.4,-1,78.1,3,77.4,5.6,76.8,6.8,75.1,3,72.1,4.5,70,6.6,67,8.6,66.7,10.8,68.6,11,68.6,13.1,70.5,13.1,70.2,17.6,72.3,17.6,74.9,16.3,76.3,14.5,79.1,13.6,81.6,11,84.2,8,85.6,7,90.5,6.8],
[6,81.4,-7.6,80.5,-8.3,80,-9.5,78.1,-9.7,78.6,-9,80,-7.3,81.2,-6.8],
[6,73.7,-7,72.6,-7,72.8,-5.6,74.4,-3,74.9,-2.7,73.7,-5],
[5,60.2,3,59.1,1.3,57,.7,53.3,2.1,52.1,.3,52,-2,50.2,-3.2,46,-3,38.6,-2.5,37.2,-1.8,39,-.3,41.9,.7,41.4,2.3,38.6,3.7,34,4,29.5,2.7,29.5,8.6,34.9,9,36.7,7,37.7,6,40,5.8,43.7,6.6,49.3,7.3,54.2,8.3,54.2,10.3,52.1,12.6,52.6,13.6,54.4,15,54,18.3,54.4,19.1,57.2,19.3,59.1,19.9,60.5,17.9,61.2,15.9,61.7,14.1,59.1,12.3,58.1,9.6,59.1,8.3,57,7.1,59.1,5.9],
[5,64.7,-5,64.2,-7.3,62.8,-7.5,61.7,-5.3,62.3,-3.7,63.3,-3.3],
[5,66.7,12.6,66.1,11.8,64.7,13.8,65.1,14.4,66.3,14],
[5,61.2,8.5,59.5,8.5,60.5,10,61,10],
[5,37.2,-9.7,29.5,-9.7,29.5,-7.6,33,-8],
[5,90.5,21.8,88,23.6,86.3,27.2,86.5,29.9,90.5,30.6],
[5,75.6,22.6,73,20.4,70.2,19.3,68.6,20.3,66.5,21.3,66,23.3,66.5,27.2,68.6,29.6,68.1,32.8,67,35.1,66,36.4,65.3,38.5,63.3,39.4,66.5,41.2,68.4,40.3,70.2,36.7,70.9,34.1,72.1,27.2,74.9,24.6],
[5,90.2,48.7,87,48.5,82.3,49.3,77.2,50,75.3,50.9,74.4,52.1,69.3,52.2,67,51.6,62.8,52.2,59.5,54.2,59,55.5,59.5,57.4,60.7,58.7,60.2,60.5,90.5,60.5,90.5,48.7],
[5,51.6,50.3,49.8,49.5,44.7,50,40,48.5,29.5,48.8,29.5,60.5,34,60.5,36.3,58.7,38.8,57.4,40,55.5,44.2,52.9,47.9,51.9,51.2,50.9],
[5,57,52.6,55.8,51.3,54.4,51.1,52.6,53.2,52.6,53.9,54.4,54.2,56.7,53.2],
[5,47.9,43.5,47,42.5,43.5,42.7,44.7,44.1,47,44.6],
[5,47.2,57.7,42.8,57.4,39.5,57.9,39.5,59,44.7,59.5,46.7,59],
[5,72.3,47.7,71.2,46.2,70,47.1,69.9,48.3,71.6,49.4],
[6,69.8,54.3,68.4,54.7,65.3,55.1,65.3,55.8,66.5,56.2,68.4,55.5],
[5,48.4,28.2,46.5,27.4,43.3,28.2,41.4,29.6,34,28.9,29.5,28.6,29.5,42.2,33.4,41.2,35.8,39.9,35.6,38.2,32.6,37,33.5,36.1,38.6,36.9,42.8,35.1,46,32.8,47.9,30.9],
[5,37.2,22.4,35.8,22.9,30,25.7,29.5,28.2,33.5,26.9,36.7,24.3],
[4,46.3,31.2,44.2,30.4,40,30.6,34,29.9,29.5,29.9,29.5,34.4,38.6,34.8,44.2,33.5,46.5,30.9],
[3,35.8,32.4,35.1,31.6,33,32.4,34,33.2],
[4,83.7,-3.3,81.9,-5,78.1,-5.6,77.2,-7,75.8,-8.3,73.7,-7.8,74.4,-6,76.3,-3.3,78.6,-2,80.5,-1.7,83.3,-2.7],
[3,76.3,-7,75.9,-6.9,76.2,-6.3],
[4,90.5,-2.5,86,-2.3,84.7,0,80.9,2,80.5,4.3,80.9,6.3,79.5,8.3,77.2,12.8,79.1,12.8,81.4,9.3,84.2,6.3,86.5,4.3,90,5,90.5,5],
[4,74.6,6.6,74,6.3,73.3,7.6,74.1,8.6,74.6,8],
[4,74.2,23.6,71.6,20.9,70.2,20.8,68.8,20.1,67,21.6,66.7,26.9,68.8,29.6,68.6,36.1,70.2,35.4,70.9,34.4,70.2,28.6,71.6,27.2,73,25.6],
[3,71.9,24.9,71.3,22.9,70.2,22.9,70.7,26.2],
[3,68.8,21.3,67.4,22.6,67.4,27.2,68.8,29.2,70,32.9,70.7,29.2,69.3,24.6],
[2,68.8,26.2,68.3,25.4,68,27.6,69.3,28.2],
[7,88.3,10,87,9,84.2,10,81.6,12.3,81.6,14,79.5,15.3,76.3,14.6,74.4,17.1,77.4,18.4,77,20.9,75.3,25.6,73,29.9,73.3,30.9,72.8,37,71.2,39.8,73.5,38.3,76.3,44.1,78.6,45.1,81.9,44.1,83.3,42.2,81.4,37.3,83.5,32.2,84.2,28.2,84.7,21.6,86.5,18.3,85.6,17.3,83.3,16.3,83.3,14.6,87,13,87.9,11.6],
[8,81.8,26.2,80.2,23.1,78.6,24.3,77.2,27.6,75.3,32.2,74.9,35.1,75.8,37,78.1,35.4,80.5,31.8,81.6,29.6],
[7,67.9,-2,66,-3.8,64.7,-2,64.9,-.3,66.3,.2,67.7,-1.2],
[7,76.7,.8,75.6,-.7,74.4,-.7,76,.5],
[7,44,-6.2,42.6,-6.8,41,-6.2,42.8,-5.7],
[7,51.9,16.9,48.8,12.6,46,11.3,45.1,10,41.4,8.3,39.1,8.6,38.8,11.6,39.3,15.6,40.5,17.9,39.5,23.3,42.1,23.3,42.1,19.6,43.7,18.1,48.8,18.6,51.6,17.9],
[7,34.4,13.3,33,11,29.5,10.3,29.5,13,33.5,15.1,34.4,14.6],
[7,35.7,17.8,35.1,16.4,34,16.4,33,18.6,33.5,19.9,35.1,19.6],
[7,42.8,27.1,40,24.9,38.6,25.2,35.7,27.9,40.5,27.6,42.3,28.2],
[7,64.4,22.4,61.9,22.4,59.1,24.6,53.5,22.9,50.9,20.6,48.4,20.8,48.4,24.3,50.2,28.2,52.6,32.6,52.6,32.8,50.2,32.8,46.5,35.1,41.4,37.7,41.2,39,45.6,40.4,50.7,40.6,52.6,42.8,54.9,43.5,59.8,43,59.3,39.9,59.5,38.6,61.9,35.1,65.6,34.4,67.9,32.8,68.6,31.6,66.5,28.2],
[6,64.7,26.6,63.3,25.7,59.5,26.6,59.1,28.9,61.4,30.4,63.7,29.2,64.7,28.2],
[5,63,27.9,62.3,27.7,61.2,28.7,62.3,28.4],
[8,66,28.2,64.9,29.6,62.3,31.6,59.1,30.6,56,26.6,53,24.9,51.4,26.9,51.6,28.9,53.5,31.6,54.9,32.2,52.8,36.7,54.4,39,56.3,39.4,59.1,35.7,61.9,33.8,65.6,33.6,67.9,32.2,68.1,31.6,67.4,29.6],
[8,51.2,36.7,50.2,35.6,47.9,35.6,43.9,37.8,44.2,38.6,47.4,39.3,49.8,38.3],
[9,67.3,31.2,66.7,30.1,64.7,31.6,64.9,32.7,66,32.9]
];
const panelA = {x0:108.7, y0:94, bg:6, regions:singleTwqRegions, gap:true, barLabels:twqBarLabels, name:'panel-a', label:[70,33.4]};
const panelB = {x0:882.2, y0:94, bg:6, regions:multiTwqRegions, gap:true, barLabels:twqBarLabels, name:'panel-b', label:[70.1,34.4]};
const panelC = {x0:108.7, y0:1219, bg:6, regions:singleQRegions, gap:false, barLabels:qBarLabels, name:'panel-c', label:null};
const panelD = {x0:882.2, y0:1219, bg:6, regions:multiQRegions, gap:false, barLabels:qBarLabels, name:'panel-d', label:null};
const panels = [panelA,panelB,panelC,panelD];

const svg = document.getElementById('figure');
const NS = 'http://www.w3.org/2000/svg';
const degPx = 10.77;
function make(tag, attrs, parent){
  const el = document.createElementNS(NS, tag);
  for (const k in attrs) el.setAttribute(k, attrs[k]);
  parent.appendChild(el);
  return el;
}
function xAxis(p, w){ return p.x0 + (90 - w) * degPx; }
function yAxis(p, s){ return p.y0 + (s + 10) * degPx; }
function closedSpline(p, v, start){
  const pts = [];
  for (let i = start; i + 1 < v.length; i += 2) pts.push([xAxis(p, v[i]), yAxis(p, v[i + 1])]);
  const n = pts.length;
  let d = 'M' + pts[0][0].toFixed(1) + ' ' + pts[0][1].toFixed(1);
  for (let i = 0; i < n; i++) {
    const a = pts[(i - 1 + n) % n], b = pts[i], c = pts[(i + 1) % n], e = pts[(i + 2) % n];
    const k = 0.13;
    d += 'C' + (b[0] + (c[0] - a[0]) * k).toFixed(1) + ' ' + (b[1] + (c[1] - a[1]) * k).toFixed(1) + ' ' +
         (c[0] - (e[0] - b[0]) * k).toFixed(1) + ' ' + (c[1] - (e[1] - b[1]) * k).toFixed(1) + ' ' +
         c[0].toFixed(1) + ' ' + c[1].toFixed(1);
  }
  return d + 'Z';
}
function polyline(p, v){
  let d = '';
  for (let i = 0; i + 1 < v.length; i += 2) d += (i ? 'L' : 'M') + xAxis(p, v[i]).toFixed(1) + ' ' + yAxis(p, v[i + 1]).toFixed(1);
  return d;
}
function tick(g, x1, y1, x2, y2, w, name){
  const t = make('line', {x1:x1, y1:y1, x2:x2, y2:y2, stroke:'#000', 'stroke-width':w}, g);
  
  
}
panels.forEach(function(p){
  const g = make('g', {}, svg);
  
  
  const left = xAxis(p, 90), right = xAxis(p, 30), top = yAxis(p, -10), bottom = yAxis(p, 60);
  const clipId = p.name + '-clip';
  const defs = make('defs', {}, g);
  const clip = make('clipPath', {id:clipId}, defs);
  make('rect', {x:left, y:top, width:right - left, height:bottom - top}, clip);
  const map = make('g', {'clip-path':'url(#' + clipId + ')'}, g);
  
  
  const bg = make('rect', {x:left, y:top, width:right - left, height:bottom - top, fill:levelColors[p.bg]}, map);
  
  
  p.regions.forEach(function(r){
    const el = make('path', {d:closedSpline(p, r, 1), fill:levelColors[r[0]]}, map);
    
    
  });
  if (p.gap) {
    const c = make('path', {d:polyline(p, cornerGap) + 'Z', fill:'#fff'}, map);
    
    
  }
  coastLines.forEach(function(c){
    const el = make('path', {d:polyline(p, c), fill:'none', stroke:'#000', 'stroke-width':2, 'stroke-linejoin':'round'}, map);
    
    
  });
  topoLines.forEach(function(c){
    const el = make('path', {d:polyline(p, c), fill:'none', stroke:'#000', 'stroke-width':4, 'stroke-linejoin':'round'}, map);
    
    
  });
  if (p.label) {
    const lx = xAxis(p, p.label[0]), ly = yAxis(p, p.label[1]);
    const box = make('rect', {x:lx - 15, y:ly - 7.5, width:30, height:15, fill:'#fff', stroke:'#000', 'stroke-width':1.6}, map);
    
    
    const tx = make('text', {x:lx, y:ly + 4, 'font-size':11.5, 'text-anchor':'middle'}, map);
    
    
    tx.textContent = '2000';
  }
  const frame = make('rect', {x:left, y:top, width:right - left, height:bottom - top, fill:'none', stroke:'#000', 'stroke-width':4}, g);
  
  
  lonMinor.forEach(function(w){
    const x = xAxis(p, w);
    tick(g, x, top, x, top - 12, 2.4, 'minor-lon-tick');
    tick(g, x, bottom, x, bottom + 12, 2.4, 'minor-lon-tick');
  });
  lonMajor.forEach(function(w, i){
    const x = xAxis(p, w);
    tick(g, x, top, x, top - 24, 3.8, 'major-lon-tick');
    tick(g, x, bottom, x, bottom + 24, 3.8, 'major-lon-tick');
    const t = make('text', {x:x, y:bottom + 65, 'font-size':31.5, 'text-anchor':'middle'}, g);
    
    
    t.textContent = lonMajorLabels[i];
  });
  latMinor.forEach(function(s){
    const y = yAxis(p, s);
    tick(g, left, y, left - 12, y, 2.4, 'minor-lat-tick');
    tick(g, right, y, right + 12, y, 2.4, 'minor-lat-tick');
  });
  latMajor.forEach(function(s, i){
    const y = yAxis(p, s);
    tick(g, left, y, left - 24, y, 3.8, 'major-lat-tick');
    tick(g, right, y, right + 24, y, 3.8, 'major-lat-tick');
    const t = make('text', {x:left - 42, y:y + 10.5, 'font-size':31.5, 'text-anchor':'end'}, g);
    
    
    t.textContent = latMajorLabels[i];
  });
  const barX = left + 10.6, barY = bottom + 103.7, boxW = 52, barH = 67;
  const bar = make('g', {}, g);
  
  
  levelColors.forEach(function(col, i){
    const b = make('rect', {x:barX + i * boxW, y:barY, width:boxW, height:barH, fill:col, stroke:'#000', 'stroke-width':2.4}, bar);
    
    
  });
  p.barLabels.forEach(function(lab, i){
    const t = make('text', {x:barX + (2 + i * 2) * boxW, y:barY + 110, 'font-size':31.5, 'text-anchor':'middle'}, bar);
    
    
    t.textContent = lab;
  });
});
</script>
</body>
</html>
